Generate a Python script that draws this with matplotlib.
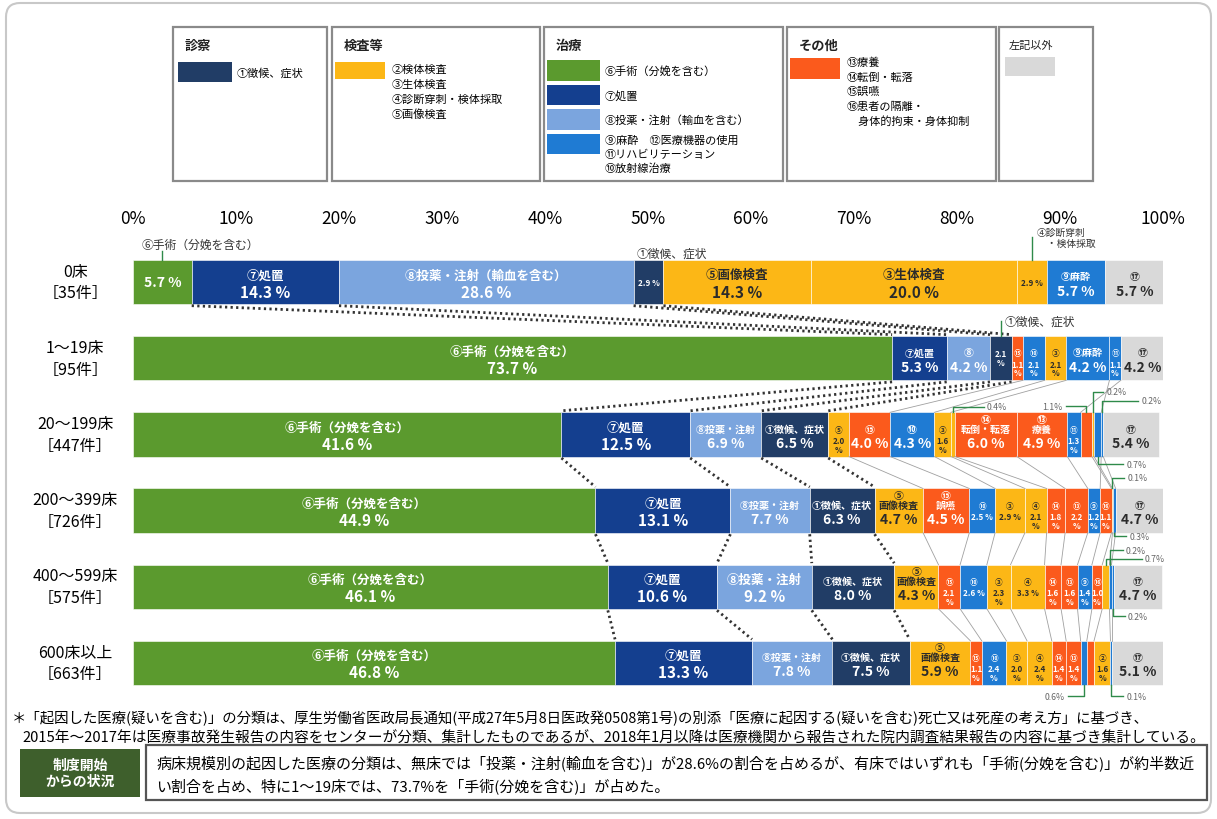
import matplotlib
matplotlib.use('Agg')
import matplotlib.pyplot as plt
from matplotlib.patches import Rectangle, FancyBboxPatch

plt.rcParams['font.family'] = ['Noto Sans CJK JP', 'DejaVu Sans']

# ---- data ----
ticks = [0, 10, 20, 30, 40, 50, 60, 70, 80, 90, 100]
tick_labels = [f'{t}%' for t in ticks]

row_names = ['0床\n［35件］', '1～19床\n［95件］', '20～199床\n［447件］',
             '200～399床\n［726件］', '400～599床\n［575件］', '600床以上\n［663件］']

keys_0 = ['⑥', '⑦', '⑧', '①', '⑤', '③', '④', '⑨', '⑰']
vals_0 = [5.7, 14.3, 28.6, 2.9, 14.3, 20.0, 2.9, 5.7, 5.7]
heads_0 = ['', '⑦処置', '⑧投薬・注射（輸血を含む）', '', '⑤画像検査', '③生体検査', '', '⑨麻酔', '⑰']

keys_1 = ['⑥', '⑦', '⑧', '①', '⑮', '⑩', '③', '⑨', '⑪', '⑰']
vals_1 = [73.7, 5.3, 4.2, 2.1, 1.1, 2.1, 2.1, 4.2, 1.1, 4.2]
heads_1 = ['⑥手術（分娩を含む）', '⑦処置', '⑧', '', '⑮', '⑩', '③', '⑨麻酔', '⑪', '⑰']

keys_2 = ['⑥', '⑦', '⑧', '①', '⑤', '⑮', '⑩', '③', '④', '⑭', '⑬', '⑪', '⑯', '②', '⑨', '⑫', '⑰']
vals_2 = [41.6, 12.5, 6.9, 6.5, 2.0, 4.0, 4.3, 1.6, 0.4, 6.0, 4.9, 1.3, 1.1, 0.2, 0.7, 0.2, 5.4]
heads_2 = ['⑥手術（分娩を含む）', '⑦処置', '⑧投薬・注射', '①徴候、症状', '⑤', '⑮', '⑩', '③', None,
           '⑭\n転倒・転落', '⑬\n療養', '⑪', None, None, None, None, '⑰']

keys_3 = ['⑥', '⑦', '⑧', '①', '⑤', '⑮', '⑩', '③', '④', '⑭', '⑬', '⑨', '⑯', '②', '⑫', '⑰']
vals_3 = [44.9, 13.1, 7.7, 6.3, 4.7, 4.5, 2.5, 2.9, 2.1, 1.8, 2.2, 1.2, 1.1, 0.1, 0.3, 4.7]
heads_3 = ['⑥手術（分娩を含む）', '⑦処置', '⑧投薬・注射', '①徴候、症状', '⑤\n画像検査', '⑮\n誤嚥', '⑩',
           '③', '④', '⑭', '⑬', '⑨', '⑯', None, None, '⑰']

keys_4 = ['⑥', '⑦', '⑧', '①', '⑤', '⑮', '⑩', '③', '④', '⑭', '⑬', '⑨', '⑯', '②', '⑫', '⑪', '⑰']
vals_4 = [46.1, 10.6, 9.2, 8.0, 4.3, 2.1, 2.6, 2.3, 3.3, 1.6, 1.6, 1.4, 1.0, 0.7, 0.2, 0.2, 4.7]
heads_4 = ['⑥手術（分娩を含む）', '⑦処置', '⑧投薬・注射', '①徴候、症状', '⑤\n画像検査', '⑮', '⑩',
           '③', '④', '⑭', '⑬', '⑨', '⑯', None, None, None, '⑰']

keys_5 = ['⑥', '⑦', '⑧', '①', '⑤', '⑮', '⑩', '③', '④', '⑭', '⑬', '⑨', '⑯', '②', '⑫', '⑰']
vals_5 = [46.8, 13.3, 7.8, 7.5, 5.9, 1.1, 2.4, 2.0, 2.4, 1.4, 1.4, 0.6, 0.7, 1.6, 0.1, 5.1]
heads_5 = ['⑥手術（分娩を含む）', '⑦処置', '⑧投薬・注射', '①徴候、症状', '⑤\n画像検査', '⑮', '⑩',
           '③', '④', '⑭', '⑬', None, None, '②', None, '⑰']

rows = [(keys_0, vals_0, heads_0), (keys_1, vals_1, heads_1), (keys_2, vals_2, heads_2),
        (keys_3, vals_3, heads_3), (keys_4, vals_4, heads_4), (keys_5, vals_5, heads_5)]

# callouts: row, key, text, side, rise, dx, text dx, ha, va
callouts = [
    (0, '⑥', '⑥手術（分娩を含む）', 'top', 0.12, 0, -2.0, 'left', 'bottom'),
    (0, '①', '①徴候、症状', 'top', 0.0, 0, -1.2, 'left', 'bottom'),
    (0, '④', '④診断穿刺\n　・検体採取', 'top', 0.3, 0, 0.5, 'left', 'center'),
    (1, '①', '①徴候、症状', 'top', 0.2, 0, 0.4, 'left', 'center'),
    (2, '④', '0.4%', 'top', 0.07, 3.0, 0.3, 'left', 'center'),
    (2, '⑯', '1.1%', 'top', 0.08, -2.0, -0.3, 'right', 'center'),
    (2, '②', '0.2%', 'top', 0.27, 1.0, 0.3, 'left', 'center'),
    (2, '⑫', '0.2%', 'top', 0.15, 3.5, 0.3, 'left', 'center'),
    (2, '⑨', '0.7%', 'bottom', 0.1, 2.5, 0.3, 'left', 'center'),
    (3, '②', '0.1%', 'top', 0.14, 1.2, 0.3, 'left', 'center'),
    (3, '⑫', '0.3%', 'bottom', 0.05, 1.2, 0.3, 'left', 'center'),
    (4, '②', '0.7%', 'top', 0.08, 3.5, 0.3, 'left', 'center'),
    (4, '⑫', '0.2%', 'top', 0.19, 1.2, 0.3, 'left', 'center'),
    (4, '⑪', '0.2%', 'bottom', 0.1, 1.2, 0.3, 'left', 'center'),
    (5, '⑨', '0.6%', 'bottom', 0.15, -1.5, -0.3, 'right', 'center'),
    (5, '⑫', '0.1%', 'bottom', 0.15, 1.2, 0.3, 'left', 'center'),
]

# ---- colours ----
GREEN = '#5b9a2e'
PROC = '#143f8f'
DRUG = '#7ba5de'
NAVY = '#213d66'
YELLOW = '#fcb716'
BLUE = '#1f7bd3'
ORANGE = '#fb5a1c'
GRAY = '#d9d9d9'
colors = {'①': NAVY, '②': YELLOW, '③': YELLOW, '④': YELLOW, '⑤': YELLOW,
          '⑥': GREEN, '⑦': PROC, '⑧': DRUG, '⑨': BLUE, '⑩': BLUE, '⑪': BLUE,
          '⑫': BLUE, '⑬': ORANGE, '⑭': ORANGE, '⑮': ORANGE, '⑯': ORANGE, '⑰': GRAY}
DARK = '#2b2b2b'
LINEG = '#2f8a4a'

fig = plt.figure(figsize=(12.17, 8.2), dpi=100)

# overlay for legend / notes in pixel coordinates
ov = fig.add_axes([0, 0, 1, 1])
ov.set_xlim(0, 1217)
ov.set_ylim(820, 0)
ov.axis('off')

ov.add_patch(FancyBboxPatch((6, 4), 1205, 810, boxstyle='round,pad=0,rounding_size=14',
                            fc='none', ec='#c8c8c8', lw=1.5))

# legend boxes
boxes = [(173, 327, '診察', True), (332, 540, '検査等', True), (544, 783, '治療', True),
         (787, 996, 'その他', True), (999, 1093, '左記以外', False)]
for x0, x1, title, bold in boxes:
    ov.add_patch(Rectangle((x0, 28), x1 - x0, 154, fc='white', ec='#8a8a8a', lw=1.6))
    ov.text(x0 + 12 if bold else x0 + 10, 46, title, fontsize=9.5 if bold else 8,
            fontweight='bold' if bold else 'normal', va='center', color='#222')

def swatch(x, y, w, h, c):
    ov.add_patch(Rectangle((x, y), w, h, fc=c, ec='none'))

swatch(178, 63, 54, 20, NAVY)
ov.text(237, 73, '①徴候、症状', fontsize=8, va='center')
swatch(335, 63, 50, 17, YELLOW)
for i, t in enumerate(['②検体検査', '③生体検査', '④診断穿刺・検体採取', '⑤画像検査']):
    ov.text(392, 70 + i * 15, t, fontsize=8, va='center')
swatch(547, 61, 53, 21, GREEN)
swatch(547, 86, 53, 20, PROC)
swatch(547, 110, 53, 21, DRUG)
swatch(547, 135, 53, 20, BLUE)
ov.text(605, 71, '⑥手術（分娩を含む）', fontsize=8, va='center')
ov.text(605, 96, '⑦処置', fontsize=8, va='center')
ov.text(605, 120, '⑧投薬・注射（輸血を含む）', fontsize=8, va='center')
ov.text(605, 141, '⑨麻酔　⑫医療機器の使用', fontsize=8, va='center')
ov.text(605, 155, '⑪リハビリテーション', fontsize=8, va='center')
ov.text(605, 169, '⑩放射線治療', fontsize=8, va='center')
swatch(790, 59, 50, 21, ORANGE)
for i, t in enumerate(['⑬療養', '⑭転倒・転落', '⑮誤嚥', '⑯患者の隔離・', '　身体的拘束・身体抑制']):
    ov.text(847, 63 + i * 14.5, t, fontsize=8, va='center')
swatch(1005, 58, 50, 19, GRAY)

# footnote
ov.text(12, 718, '＊「起因した医療(疑いを含む)」の分類は、厚生労働省医政局長通知(平成27年5月8日医政発0508第1号)の別添「医療に起因する(疑いを含む)死亡又は死産の考え方」に基づき、',
        fontsize=10.4, va='center')
ov.text(22, 738, '2015年～2017年は医療事故発生報告の内容をセンターが分類、集計したものであるが、2018年1月以降は医療機関から報告された院内調査結果報告の内容に基づき集計している。',
        fontsize=10.6, va='center')

# summary box
ov.add_patch(Rectangle((20, 750), 120, 48, fc='#3e5f2c', ec='none'))
ov.text(80, 774, '制度開始\nからの状況', fontsize=10, color='white', fontweight='bold',
        ha='center', va='center', linespacing=1.2)
ov.add_patch(Rectangle((146, 746), 1061, 55, fc='white', ec='#555555', lw=1.6))
ov.text(156, 763, '病床規模別の起因した医療の分類は、無床では「投薬・注射(輸血を含む)」が28.6%の割合を占めるが、有床ではいずれも「手術(分娩を含む)」が約半数近',
        fontsize=10.8, va='center')
ov.text(156, 786, 'い割合を占め、特に1～19床では、73.7%を「手術(分娩を含む)」が占めた。',
        fontsize=10.8, va='center')

# ---- main bars ----
ax = fig.add_axes([133 / 1217, 1 - 702 / 820, 1030 / 1217, 457 / 820])
ax.set_facecolor('none')
ax.set_xlim(0, 100)
ax.set_ylim(5.5, -0.5)
for s in ax.spines.values():
    s.set_visible(False)
ax.set_xticks(ticks, tick_labels)
ax.tick_params(axis='x', top=True, labeltop=True, bottom=False, labelbottom=False,
               length=0, pad=12, labelsize=12.5)
ax.set_yticks([])

H = 0.58
ends = []
for r, (keys, vals, heads) in enumerate(rows):
    left = 0.0
    e = {}
    for k, v, hd in zip(keys, vals, heads):
        c = colors[k]
        ax.barh(r, v, left=left, height=H, color=c, edgecolor='white', linewidth=0.4)
        xc = left + v / 2
        tc = DARK if c in (YELLOW, GRAY) else 'white'
        if hd is not None:
            if v >= 9:
                hs, vs = 9, 11
            elif v >= 4:
                hs, vs = 7.2, 10
            else:
                hs, vs = 5.5, 5.8
            vt = f'{v:.1f} %' if v >= 2.5 else f'{v:.1f}\n%'
            if hd:
                ax.text(xc, r - 0.01, hd, ha='center', va='bottom', fontsize=hs, color=tc,
                        fontweight='bold', linespacing=1.0)
                ax.text(xc, r + 0.02, vt, ha='center', va='top', fontsize=vs, color=tc,
                        fontweight='bold', linespacing=0.95)
            else:
                ax.text(xc, r, vt, ha='center', va='center', fontsize=vs, color=tc,
                        fontweight='bold', linespacing=0.95)
        left += v
        e[k] = (left, xc)
    ends.append(e)
    ax.text(-5.6, r, row_names[r], ha='center', va='center', fontsize=11.5,
            linespacing=1.35, clip_on=False)

# connectors between rows
for r in range(len(rows) - 1):
    a, b = ends[r], ends[r + 1]
    for k in a:
        if k not in b or k == '⑰':
            continue
        if k in ('⑥', '⑦', '⑧', '①'):
            ax.plot([a[k][0], b[k][0]], [r + H / 2 + 0.02, r + 1 - H / 2 - 0.02],
                    color='#333', lw=2, ls=(0, (0.8, 1.2)))
        elif r >= 1:
            ax.plot([a[k][0], b[k][0]], [r + H / 2, r + 1 - H / 2], color='#a0a0a0', lw=0.6)

# callouts
for r, k, txt, side, rise, dx, tdx, ha, va in callouts:
    x = ends[r][k][1]
    y0 = r - H / 2 if side == 'top' else r + H / 2
    y1 = y0 - rise if side == 'top' else y0 + rise
    if rise > 0:
        ax.plot([x, x, x + dx], [y0, y1, y1], color=LINEG, lw=1, clip_on=False)
    big = len(txt) > 5
    small_cj = '\n' in txt
    fs = 7 if small_cj else (8.5 if big else 6.3)
    ax.text(x + dx + tdx, y1, txt, ha=ha, va=va, fontsize=fs,
            color='#333' if big else '#666', clip_on=False, linespacing=1.1)

fig.savefig('out.png', dpi=100)
